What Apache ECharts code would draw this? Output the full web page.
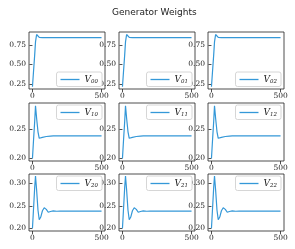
<!DOCTYPE html>
<html><head><meta charset="utf-8">
<script src="https://cdn.jsdelivr.net/npm/echarts@6/dist/echarts.min.js"></script>
<style>html,body{margin:0;padding:0;background:#fff}#c{width:295px;height:249px}</style>
</head><body><div id="c"></div>
<script>
const steps = [0, 8, 16, 22, 30, 40, 49, 60, 72, 85, 100, 114, 130, 150, 175, 200, 300, 400, 499];
const V00 = [0.215, 0.42, 0.62, 0.79, 0.885, 0.862, 0.849, 0.846, 0.845, 0.845, 0.845, 0.845, 0.845, 0.845, 0.845, 0.845, 0.845, 0.845, 0.845];
const V01 = [0.215, 0.42, 0.62, 0.79, 0.885, 0.862, 0.849, 0.846, 0.845, 0.845, 0.845, 0.845, 0.845, 0.845, 0.845, 0.845, 0.845, 0.845, 0.845];
const V02 = [0.215, 0.42, 0.62, 0.79, 0.885, 0.862, 0.849, 0.846, 0.845, 0.845, 0.845, 0.845, 0.845, 0.845, 0.845, 0.845, 0.845, 0.845, 0.845];
const V10 = [0.200, 0.232, 0.262, 0.289, 0.268, 0.245, 0.234, 0.2345, 0.2355, 0.2365, 0.237, 0.2375, 0.2378, 0.238, 0.238, 0.238, 0.238, 0.238, 0.238];
const V11 = [0.200, 0.232, 0.262, 0.289, 0.268, 0.245, 0.234, 0.2345, 0.2355, 0.2365, 0.237, 0.2375, 0.2378, 0.238, 0.238, 0.238, 0.238, 0.238, 0.238];
const V12 = [0.200, 0.232, 0.262, 0.289, 0.268, 0.245, 0.234, 0.2345, 0.2355, 0.2365, 0.237, 0.2375, 0.2378, 0.238, 0.238, 0.238, 0.238, 0.238, 0.238];
const V20 = [0.200, 0.245, 0.290, 0.316, 0.285, 0.240, 0.219, 0.225, 0.239, 0.2455, 0.242, 0.2356, 0.2372, 0.2386, 0.2378, 0.238, 0.238, 0.238, 0.238];
const V21 = [0.200, 0.245, 0.290, 0.316, 0.285, 0.240, 0.219, 0.225, 0.239, 0.2455, 0.242, 0.2356, 0.2372, 0.2386, 0.2378, 0.238, 0.238, 0.238, 0.238];
const V22 = [0.200, 0.245, 0.290, 0.316, 0.285, 0.240, 0.219, 0.225, 0.239, 0.2455, 0.242, 0.2356, 0.2372, 0.2386, 0.2378, 0.238, 0.238, 0.238, 0.238];
const seriesNames = ['V00','V01','V02','V10','V11','V12','V20','V21','V22'];
const seriesValues = [V00,V01,V02,V10,V11,V12,V20,V21,V22];
const xTicks = [0, 500];
const yTicksByRow = [[0.25, 0.50, 0.75], [0.20, 0.25], [0.20, 0.25, 0.30]];
const yRangeByRow = [[0.186, 0.917], [0.1955, 0.2938], [0.194, 0.3205]];
const title = 'Generator Weights';

const lefts = [29, 119, 208];
const tops = [32, 103, 174];
const heights = [57, 58, 57];
const W = 76;
const lineColor = '#3498d8';
const serif = '"DejaVu Serif", "Liberation Serif", serif';

const grid = [], xAxis = [], yAxis = [], series = [], legend = [];
for (let r = 0; r < 3; r++) {
  for (let c = 0; c < 3; c++) {
    const i = r * 3 + c;
    grid.push({left: lefts[c], top: tops[r], width: W, height: heights[r], show: true,
      borderColor: '#222', borderWidth: 0.8, backgroundColor: '#fff'});
    xAxis.push({type: 'value', gridIndex: i, min: -25, max: 524,
      splitLine: {show: false}, axisLine: {show: false},
      axisTick: {show: true, length: 3, lineStyle: {color: '#222', width: 0.8}, customValues: xTicks},
      axisLabel: {show: true, customValues: xTicks, fontFamily: serif, fontSize: 7.5, color: '#222', margin: 3}});
    yAxis.push({type: 'value', gridIndex: i, min: yRangeByRow[r][0], max: yRangeByRow[r][1],
      splitLine: {show: false}, axisLine: {show: false},
      axisTick: {show: true, length: 3, lineStyle: {color: '#222', width: 0.8}, customValues: yTicksByRow[r]},
      axisLabel: {show: true, customValues: yTicksByRow[r], fontFamily: serif, fontSize: 7.5, color: '#222', margin: 3,
        formatter: v => v.toFixed(2)}});
    series.push({type: 'line', name: seriesNames[i], xAxisIndex: i, yAxisIndex: i,
      data: steps.map((s, k) => [s, seriesValues[i][k]]),
      showSymbol: false, symbol: 'none', lineStyle: {color: lineColor, width: 1.2}, itemStyle: {color: lineColor},
      animation: false});
    legend.push({data: [seriesNames[i]], right: 295 - (lefts[c] + W) + 3, top: r === 0 ? tops[r] + 40 : tops[r] + 2,
      icon: 'rect', itemWidth: 19, itemHeight: 1.3, itemGap: 6,
      backgroundColor: '#fff', borderColor: '#ccc', borderWidth: 0.8, borderRadius: 2, padding: [3, 4, 2, 4],
      selectedMode: false,
      formatter: name => '{v|V}{s|' + name.slice(1) + '}',
      textStyle: {rich: {
        v: {fontFamily: serif, fontStyle: 'italic', fontSize: 9, color: '#222'},
        s: {fontFamily: serif, fontStyle: 'italic', fontSize: 5.5, color: '#222', padding: [4, 0, 0, 0]}
      }}});
  }
}

const chart = echarts.init(document.getElementById('c'), null, {renderer: 'canvas'});
chart.setOption({
  animation: false,
  backgroundColor: '#fff',
  title: {text: title, left: 107, top: 3, textStyle: {fontFamily: '"DejaVu Sans", sans-serif', fontSize: 9, fontWeight: 'normal', color: '#222'}},
  grid, xAxis, yAxis, series, legend
});
</script></body></html>
